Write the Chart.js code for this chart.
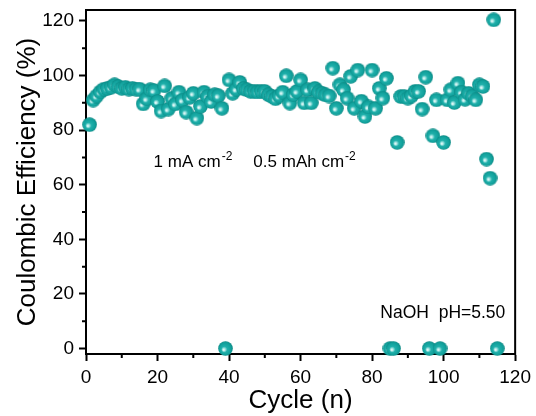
<!DOCTYPE html>
<html>
<head>
<meta charset="utf-8">
<script src="https://cdn.jsdelivr.net/npm/chart.js@4"></script>
<style>
    body { margin: 0; background: #fff; }
    #wrap { width: 536px; height: 416px; }
</style>
</head>
<body>
<div id="wrap"><canvas id="myChart" width="536" height="416"></canvas></div>
<script>
var cycles = [1, 2, 3, 4, 5, 6, 7, 8, 9, 10, 11, 12, 13, 14, 15, 16, 17, 18, 19, 20,
    21, 22, 23, 24, 25, 26, 27, 28, 29, 30, 31, 32, 33, 34, 35, 36, 37, 38, 39, 40,
    41, 42, 43, 44, 45, 46, 47, 48, 49, 50, 51, 52, 53, 54, 55, 56, 57, 58, 59, 60,
    61, 62, 63, 64, 65, 66, 67, 68, 69, 70, 71, 72, 73, 74, 75, 76, 77, 78, 79, 80,
    81, 82, 83, 84, 85, 86, 87, 88, 89, 90, 91, 92, 93, 94, 95, 96, 97, 98, 99, 100,
    101, 102, 103, 104, 105, 106, 107, 108, 109, 110, 111, 112, 113, 114, 115];
var efficiency = [82, 91, 92.5, 94, 95, 95.3, 95.7, 96.6, 96, 95.3, 95.7, 95, 95.3, 95, 95, 89.6, 91.5, 94.8, 94.5, 90.5,
    87, 96.2, 87.7, 91.7, 89.6, 93.9, 91, 86.6, 92, 93.5, 84.4, 88.7, 93.9, 92.4, 90.5, 93, 92.6, 88, 0, 98.4,
    93.5, 95, 97.5, 95.3, 94.8, 94.2, 94.2, 94, 94.2, 94.2, 93, 92.3, 91.5, 92.5, 93.9, 99.9, 89.9, 93, 94.2, 98.4,
    90, 94.8, 90, 95.3, 94, 93.5, 92.9, 92.5, 102.7, 88, 96.6, 94.8, 91.7, 99.7, 88, 102, 90.6, 85, 88.5, 102,
    88, 95.3, 91.7, 99, 0, 0, 75.5, 92.3, 92.3, 91.7, 92.5, 94.2, 94.2, 87.7, 99.4, 0, 77.9, 91.1, 0, 75.5,
    91.1, 94.8, 90.1, 97.2, 93.9, 91.3, 93.5, 92.5, 91.1, 96.6, 96, 69.4, 62.4, 120.4, 0];
var xTicks = [0, 20, 40, 60, 80, 100, 120];
var yTicks = [0, 20, 40, 60, 80, 100, 120];
var xMinor = [10, 30, 50, 70, 90, 110];
var yMinor = [10, 30, 50, 70, 90, 110];

var fontName = "'Liberation Sans', Arial, sans-serif";

// shaded ball used as marker
function makeBall(d) {
    var c = document.createElement('canvas');
    c.width = d; c.height = d;
    var g = c.getContext('2d');
    var r = d / 2;
    var grad = g.createRadialGradient(r - 2, r + 1.5, 0, r, r, r);
    grad.addColorStop(0, '#ffffff');
    grad.addColorStop(0.16, '#b5ebe9');
    grad.addColorStop(0.4, '#20b0ab');
    grad.addColorStop(0.8, '#11a09b');
    grad.addColorStop(1, '#0a8580');
    g.fillStyle = grad;
    g.beginPath();
    g.arc(r, r, r - 0.2, 0, Math.PI * 2);
    g.fill();
    return c;
}

var pts = [];
for (var i = 0; i < cycles.length; i++) {
    pts.push({ x: cycles[i], y: efficiency[i] });
}

var framePlugin = {
    id: 'frame',
    beforeDatasetsDraw: function (chart) {
        var ctx = chart.ctx;
        var a = chart.chartArea;
        var xs = chart.scales.x, ys = chart.scales.y;
        ctx.save();
        ctx.strokeStyle = '#000';
        ctx.lineWidth = 2;
        ctx.strokeRect(a.left, a.top, a.right - a.left, a.bottom - a.top);
        ctx.beginPath();
        xMinor.forEach(function (v) {
            var px = xs.getPixelForValue(v);
            ctx.moveTo(px, a.bottom);
            ctx.lineTo(px, a.bottom + 4);
        });
        yMinor.forEach(function (v) {
            var py = ys.getPixelForValue(v);
            ctx.moveTo(a.left, py);
            ctx.lineTo(a.left - 4, py);
        });
        ctx.stroke();
        ctx.restore();
    },
    afterDraw: function (chart) {
        var ctx = chart.ctx;
        var xs = chart.scales.x, ys = chart.scales.y;
        ctx.save();
        ctx.fillStyle = '#000';
        ctx.textBaseline = 'alphabetic';
        ctx.textAlign = 'left';
        var by = ys.getPixelForValue(66.5);
        var parts = [[18.9, '1 mA cm'], [46.8, '0.5 mAh cm']];
        parts.forEach(function (p) {
            var px = xs.getPixelForValue(p[0]);
            ctx.font = '17px ' + fontName;
            ctx.fillText(p[1], px, by);
            var w = ctx.measureText(p[1]).width;
            ctx.font = '12px ' + fontName;
            ctx.fillText('-2', px + w + 1, by - 7);
        });
        ctx.font = '17.5px ' + fontName;
        ctx.fillText('NaOH  pH=5.50', xs.getPixelForValue(82.3), ys.getPixelForValue(11.3));
        ctx.restore();
    }
};

new Chart('myChart', {
    type: 'scatter',
    data: {
        datasets: [{
            data: pts,
            pointStyle: makeBall(15),
            pointRadius: 7.5,
            pointHoverRadius: 7.5,
            clip: false
        }]
    },
    options: {
        responsive: false,
        animation: false,
        events: [],
        layout: { padding: { left: 0, right: 20, top: 10, bottom: 0 } },
        plugins: { legend: { display: false }, tooltip: { enabled: false } },
        scales: {
            x: {
                type: 'linear',
                min: 0,
                max: 120,
                afterBuildTicks: function (s) { s.ticks = xTicks.map(function (v) { return { value: v }; }); },
                afterFit: function (s) { s.height = 62; },
                grid: { display: true, drawOnChartArea: false, tickLength: 7, tickWidth: 2, tickColor: '#000' },
                border: { display: true, color: '#000', width: 2 },
                ticks: { color: '#000', padding: 5, maxRotation: 0, font: { family: fontName, size: 19 } },
                title: { display: true, text: 'Cycle (n)', color: '#000', padding: { top: 0, bottom: 0 }, font: { family: fontName, size: 26 } }
            },
            y: {
                type: 'linear',
                min: -2,
                max: 124,
                afterBuildTicks: function (s) { s.ticks = yTicks.map(function (v) { return { value: v }; }); },
                afterFit: function (s) { s.width = 86; s.paddingTop = 0; s.paddingBottom = 0; },
                grid: { display: true, drawOnChartArea: false, tickLength: 7, tickWidth: 2, tickColor: '#000' },
                border: { display: true, color: '#000', width: 2 },
                ticks: { color: '#000', padding: 5, font: { family: fontName, size: 19 } },
                title: { display: true, text: 'Coulombic Efficiency (%)', color: '#000', padding: { top: 12, bottom: 0 }, font: { family: fontName, size: 26 } }
            }
        }
    },
    plugins: [framePlugin]
});
</script>
</body>
</html>
